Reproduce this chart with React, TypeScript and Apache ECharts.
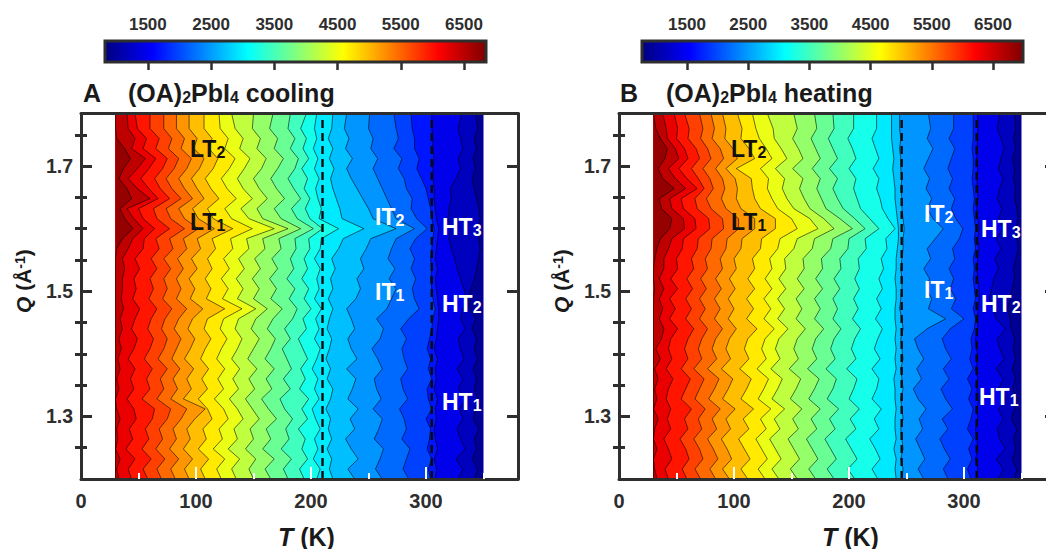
import React, { useEffect, useRef } from "react";
import * as echarts from "echarts";

const qSamples = [1.2,1.216,1.232,1.248,1.264,1.28,1.296,1.312,1.328,1.344,1.36,1.376,1.392,1.408,1.424,1.44,1.456,1.472,1.488,1.504,1.52,1.536,1.552,1.568,1.584,1.6,1.616,1.632,1.648,1.664,1.68,1.696,1.712,1.728,1.744,1.76,1.784];

// Contour positions (T, K) at each qSample, from the lowest intensity level to the highest.
const coolingContours = [
[342,345,340,344,342,346,341,343,345,342,344,341,345,342,344,340,343,338,336,339,342,344,346,347,346,345,347,346,344,342,340,343,341,344,342,345,343],
[328,332,326,334,330,327,332,329,334,328,332,327,333,330,328,334,330,332,335,333,330,327,325,322,320,321,319,320,322,321,326,330,328,332,330,328,331],
[308,309,307,310,308,307,309,308,310,307,309,308,310,307,309,310,311,311,310,309,308,310,308,309,310,311,309,308,307,307,306,306,307,306,306,305,305],
[304,302,305,301,303,304,300,305,302,301,305,302,304,301,303,305,306,308,306,305,304,305,304,305,306,307,305,304,302,300,296,292,294,290,290,288,287],
[285,280,283,286,279,283,281,277,284,280,278,284,281,279,283,278,285,294,290,288,291,287,290,286,291,301,292,287,288,283,281,276,279,272,276,274,272],
[262,256,260,263,255,259,262,254,261,257,255,262,258,253,260,263,257,266,270,274,268,273,267,270,274,290,274,270,266,262,258,254,258,252,254,250,251],
[238,232,241,235,230,238,234,241,232,236,239,231,240,235,232,238,235,231,239,243,240,246,243,248,252,274,254,250,245,240,235,231,236,230,233,229,231],
[219,216,218,214,218,215,217,213,217,219,214,217,213,216,218,214,216,219,215,219,217,221,218,224,228,246,227,225,222,219,217,220,216,219,215,218,219],
[205,208,202,206,203,208,204,201,207,203,206,201,205,208,203,207,204,209,203,207,205,208,203,208,209,224,207,209,206,204,207,203,206,202,205,203,205],
[194,190,197,192,195,189,197,192,198,190,195,191,197,193,189,196,193,200,194,198,192,197,194,199,198,210,199,195,199,194,197,192,198,193,196,191,196],
[180,176,183,174,181,178,184,177,173,182,176,183,179,175,182,177,184,188,181,186,179,185,182,187,186,202,188,183,191,185,180,186,189,182,186,180,182],
[165,160,168,158,165,161,170,163,157,166,161,168,160,165,169,162,167,175,165,170,164,171,166,174,172,191,174,168,177,170,165,171,176,168,171,164,167],
[150,146,152,143,150,147,155,149,143,151,146,153,145,150,155,148,152,162,150,155,149,156,151,160,158,180,158,153,162,155,150,157,161,153,156,149,150],
[135,131,138,128,136,133,141,136,129,137,132,138,131,136,140,134,137,152,136,141,135,142,137,146,144,168,146,139,149,141,136,142,147,138,141,134,131],
[122,118,125,115,123,120,128,124,116,124,119,125,118,122,127,121,124,140,123,128,122,129,124,132,130,149,131,125,135,127,122,129,134,125,128,121,120],
[108,104,111,102,109,106,114,110,102,110,105,111,104,108,113,107,110,125,109,113,108,114,110,117,114,132,115,110,120,113,108,115,119,111,114,107,107],
[94,90,97,89,95,92,99,108,89,96,92,98,90,95,99,93,97,106,95,99,94,101,96,104,101,116,102,97,107,101,96,103,107,98,101,94,94],
[82,78,85,77,83,80,87,92,78,84,80,86,79,83,87,81,85,92,83,87,83,89,84,92,89,102,90,85,97,90,85,92,96,87,90,83,83],
[70,66,73,65,71,68,75,78,66,72,69,75,67,72,75,70,73,79,71,75,72,78,72,80,77,90,78,74,87,79,74,81,85,76,79,72,72],
[58,54,61,53,59,56,62,64,53,60,57,62,55,60,63,58,61,66,59,63,60,66,61,68,65,77,66,63,77,69,64,71,75,65,68,60,60],
[44,41,47,39,45,42,48,46,40,46,43,47,41,46,49,44,47,51,45,48,46,51,47,54,55,64,54,50,67,59,52,59,65,54,57,49,47],
[33,31,34,30,32,31,34,31,30,33,31,34,32,35,33,36,34,37,35,36,36,38,36,41,45,54,46,40,60,49,41,49,56,44,47,41,40],
[30,30,30,30,30,30,30,30,30,30,30,30,30,30,30,30,30,30,30,30,30,30,30,31,36,45,38,34,44,40,33,37,43,38,31,30,30],
];

const heatingContours = [
[344,346,342,345,343,346,341,344,346,342,345,342,345,343,344,341,340,338,340,342,344,343,345,347,346,345,347,346,344,345,343,344,342,345,343,345,344],
[330,334,328,336,331,329,334,330,336,330,334,328,335,331,329,336,328,325,322,324,326,330,327,332,328,334,330,333,329,331,334,330,332,335,332,329,331],
[311,312,310,312,311,310,312,311,313,311,312,310,312,311,310,312,312,312,313,313,312,311,312,313,312,313,312,311,312,312,311,312,311,311,312,312,312],
[306,303,307,304,308,303,306,308,304,307,303,308,305,307,306,309,310,308,310,309,308,309,308,310,309,310,309,308,309,308,307,308,308,307,308,308,308],
[286,282,288,283,279,286,281,290,284,280,287,282,289,284,281,288,300,289,293,288,291,287,292,290,296,299,293,289,292,287,290,286,289,292,287,291,291],
[265,260,266,262,258,264,261,267,260,256,263,259,265,260,257,268,284,269,272,267,270,265,271,268,275,282,273,268,272,267,270,265,269,273,268,271,269],
[246,247,245,247,246,245,247,246,245,247,246,245,247,246,245,247,246,244,245,246,246,245,246,247,247,248,247,246,246,245,246,245,245,244,245,244,244],
[241,240,241,239,241,240,240,241,240,240,239,241,240,241,240,241,240,240,241,241,240,241,241,242,243,243,242,241,240,240,239,238,239,238,237,237,237],
[225,220,227,223,218,226,222,228,220,224,226,220,227,222,225,229,223,228,224,229,226,230,228,233,232,240,234,229,227,224,226,221,226,223,220,224,224],
[205,199,207,202,197,206,201,209,200,204,207,198,206,202,205,210,203,208,204,209,205,209,208,215,214,226,218,210,207,204,206,200,206,203,199,204,204],
[187,181,189,184,179,188,183,191,181,186,189,180,188,184,187,193,186,190,186,192,187,193,192,199,200,214,205,195,190,186,190,183,190,186,182,187,186],
[171,165,173,168,163,172,167,175,165,170,174,164,172,168,171,178,170,175,170,177,171,177,176,184,186,203,192,180,176,172,175,168,175,171,167,172,170],
[155,149,157,152,147,156,151,159,149,154,158,148,156,152,155,162,154,159,154,161,155,161,160,168,170,187,178,166,161,157,160,151,160,156,151,155,152],
[139,133,141,136,131,140,135,144,133,138,142,132,140,136,139,147,138,144,138,145,139,145,144,152,155,173,166,152,146,142,144,136,146,141,135,134,129],
[127,121,129,124,119,128,123,132,121,126,130,120,128,124,127,135,126,132,126,133,127,133,131,138,140,155,150,138,133,129,130,123,133,128,122,119,116],
[112,106,114,109,104,113,108,117,106,111,115,105,113,109,112,120,111,117,111,118,112,118,116,123,124,136,136,123,118,116,115,102,118,113,106,107,103],
[96,90,98,94,89,97,93,101,90,95,99,89,97,93,96,102,95,100,95,101,96,102,100,106,107,118,118,106,102,103,101,93,103,99,92,93,90],
[84,79,86,82,77,85,81,88,78,83,87,77,85,81,84,90,83,88,83,89,84,90,88,93,94,104,104,93,89,92,90,84,91,88,81,83,80],
[71,66,73,70,65,72,69,75,66,70,74,65,72,69,72,77,70,75,70,76,71,77,75,80,81,91,90,80,76,82,79,73,80,77,71,73,70],
[59,55,61,58,53,60,57,63,54,58,62,54,60,57,60,65,58,63,58,64,59,65,63,68,69,79,78,68,66,74,69,63,70,67,60,61,57],
[43,40,46,43,39,45,42,45,41,43,47,41,46,43,45,51,44,49,44,51,45,51,50,55,56,67,66,56,54,68,59,52,60,57,50,51,48],
[33,31,30,33,30,31,34,30,33,31,34,31,36,32,37,39,35,38,35,39,35,39,39,43,46,57,56,46,44,58,49,43,52,49,42,41,38],
[30,30,30,30,30,30,30,30,30,30,30,30,30,30,30,30,30,30,30,31,30,30,31,33,36,44,46,37,35,48,38,34,40,42,36,32,30],
];

const tRange = [30, 350];
const transitionsA = [210, 305];
const transitionsB = [245.8, 311];
const xLabels = [0, 100, 200, 300];
const xMajor = [100, 200, 300];
const xMinor = [50, 150, 250, 350];
const yMajor = [1.3, 1.5, 1.7];
const yMinor = [1.25, 1.35, 1.4, 1.45, 1.55, 1.6, 1.65, 1.75];
const cbTicks = [1500, 2500, 3500, 4500, 5500, 6500];
const cbRangeA = [822, 6848];
const cbRangeB = [765, 6990];

const INK = "#2e2e2e";
const FONT = "'Liberation Sans', Arial, sans-serif";
const BANDS = 24;

function jet(v: number) {
  const c = (x: number) => Math.round(255 * Math.max(0, Math.min(1, x)));
  const r = c(Math.min(4 * v - 1.5, -4 * v + 4.5));
  const g = c(Math.min(4 * v - 0.5, -4 * v + 3.5));
  const b = c(Math.min(4 * v + 0.5, -4 * v + 2.5));
  return `rgb(${r},${g},${b})`;
}
const bandColor = (i: number) => jet((i + 0.5) / BANDS);

function contourSeries(contours: number[][], axisOffsetX: number, axisOffsetY: number) {
  return {
    type: "custom",
    coordinateSystem: "cartesian2d",
    xAxisIndex: axisOffsetX,
    yAxisIndex: axisOffsetY,
    silent: true,
    z: 2,
    data: [[-1], ...contours.map((_, k) => [k])],
    renderItem: (_p: any, api: any) => {
      const k = api.value(0);
      if (k < 0) {
        const points = [
          api.coord([tRange[0], qSamples[0]]),
          api.coord([tRange[1], qSamples[0]]),
          api.coord([tRange[1], qSamples[qSamples.length - 1]]),
          api.coord([tRange[0], qSamples[qSamples.length - 1]]),
        ];
        return { type: "polygon", z2: 0, shape: { points }, style: { fill: bandColor(0) } };
      }
      const edge = contours[k].map((t, j) => api.coord([t, qSamples[j]]));
      const poly = [
        api.coord([tRange[0], qSamples[0]]),
        ...edge,
        api.coord([tRange[0], qSamples[qSamples.length - 1]]),
      ];
      return {
        type: "group",
        children: [
          { type: "polygon", z2: 2 * k + 1, shape: { points: poly }, style: { fill: bandColor(k + 1), stroke: "none" } },
          { type: "polyline", z2: 2 * k + 2, shape: { points: edge }, style: { fill: "none", stroke: "rgba(0,0,0,0.72)", lineWidth: 0.8 } },
        ],
      };
    },
  };
}

function dashedSeries(values: number[], xi: number, yi: number) {
  return values.map((t) => ({
    type: "line",
    xAxisIndex: xi,
    yAxisIndex: yi,
    silent: true,
    symbol: "none",
    z: 5,
    data: [[t, 1.2], [t, 1.78]],
    lineStyle: { color: "#0a0a0a", width: 2.4, type: [8, 5] },
  }));
}

function colorbarSeries(range: number[], xi: number, yi: number) {
  return {
    type: "custom",
    coordinateSystem: "cartesian2d",
    xAxisIndex: xi,
    yAxisIndex: yi,
    silent: true,
    data: [[range[0], range[1]]],
    renderItem: (_p: any, api: any) => {
      const a = api.coord([api.value(0), 0]);
      const b = api.coord([api.value(1), 1]);
      return {
        type: "rect",
        shape: { x: a[0], y: b[1], width: b[0] - a[0], height: a[1] - b[1] },
        style: {
          stroke: INK,
          lineWidth: 3,
          fill: new echarts.graphic.LinearGradient(0, 0, 1, 0, [
            { offset: 0, color: "#00007f" },
            { offset: 0.125, color: "#0000ff" },
            { offset: 0.375, color: "#00ffff" },
            { offset: 0.625, color: "#ffff00" },
            { offset: 0.875, color: "#ff0000" },
            { offset: 1, color: "#7f0000" },
          ]),
        },
      };
    },
  };
}

const tickBase = { inside: true, customValues: [] as number[] };

function panelAxes(gridIndex: number) {
  const line = { show: true, onZero: false, lineStyle: { color: INK, width: 3 } };
  const off = { show: false };
  const xBase = { type: "value", gridIndex, min: 0, max: 380, splitLine: off, z: 10 };
  const yBase = {
    type: "value", gridIndex, min: 1.2, max: 1.784, splitLine: off, z: 10,
    axisLabel: off,
  };
  const xAxes = [
    {
      ...xBase, position: "bottom", axisLine: line,
      axisTick: { ...tickBase, customValues: xMajor, length: 12, lineStyle: { color: "#fff", width: 2 } },
      axisLabel: { customValues: xLabels, margin: 12, fontSize: 20, fontWeight: "bold", fontFamily: FONT, color: INK },
    },
    {
      ...xBase, position: "bottom", axisLine: off,
      axisTick: { ...tickBase, customValues: xMinor, length: 6, lineStyle: { color: "#fff", width: 2 } },
      axisLabel: off,
    },
    { ...xBase, position: "top", axisLine: line, axisTick: off, axisLabel: off },
  ];
  const side = (position: string, values: number[], length: number, withLine: boolean, labelled: boolean) => ({
    ...yBase,
    position,
    axisLine: withLine ? line : off,
    axisTick: { ...tickBase, customValues: values, length, lineStyle: { color: INK, width: 3 } },
    axisLabel: labelled
      ? { customValues: values, margin: 8, fontSize: 19.5, fontWeight: "bold", fontFamily: FONT, color: INK, formatter: (v: number) => v.toFixed(1) }
      : off,
  });
  const yAxes = [
    side("left", yMajor, 11, true, true),
    side("left", yMinor, 6, false, false),
    side("right", yMajor, 11, true, false),
    side("right", yMinor, 6, false, false),
  ];
  return { xAxes, yAxes };
}

function colorbarAxes(gridIndex: number, range: number[]) {
  return {
    x: {
      type: "value", gridIndex, min: range[0], max: range[1], position: "top", z: 10,
      splitLine: { show: false }, axisLine: { show: false },
      axisTick: { inside: true, customValues: cbTicks, length: 8, lineStyle: { color: INK, width: 2.5 } },
      axisLabel: { customValues: cbTicks, margin: 8, fontSize: 17, fontWeight: "bold", fontFamily: FONT, color: INK, formatter: (v: number) => String(v) },
    },
    y: {
      type: "value", gridIndex, min: 0, max: 1, show: false,
    },
  };
}

const base = { fontFamily: FONT, fontWeight: "bold" as const };

function titleText(letter: string, lx: number, word: string, tx: number) {
  return [
    { type: "text", x: lx, y: 80.5, z: 50, style: { ...base, text: letter, fontSize: 25, fill: "#1a1a1a" } },
    {
      type: "text", x: tx, y: 80.5, z: 50,
      style: {
        text: `{b|(OA)}{s|2}{b|PbI}{s|4}{b| ${word}}`,
        rich: {
          b: { ...base, fontSize: 25, lineHeight: 25, verticalAlign: "top", fill: "#1a1a1a" },
          s: { ...base, fontSize: 16, lineHeight: 16, verticalAlign: "bottom", padding: [13, 0, 0, 0], fill: "#1a1a1a" },
        },
      },
    },
  ];
}

function region(main: string, sub: string, x: number, baseline: number, fill: string) {
  return {
    type: "text", x, y: baseline - 20, z: 50,
    style: {
      text: `{b|${main}}{s|${sub}}`,
      rich: {
        b: { ...base, fontSize: 23, lineHeight: 23, verticalAlign: "top", fill },
        s: { ...base, fontSize: 16, lineHeight: 16, verticalAlign: "bottom", padding: [13, 0, 0, 0], fill },
      },
    },
  };
}

function xName(x: number) {
  return {
    type: "text", x, y: 524, z: 50,
    style: {
      text: "{i|T}{b| (K)}",
      rich: {
        i: { ...base, fontSize: 25, fontStyle: "italic", fill: "#1a1a1a" },
        b: { ...base, fontSize: 25, fill: "#1a1a1a" },
      },
    },
  };
}

function yName(x: number) {
  return {
    type: "text", x, y: 313, z: 50, rotation: Math.PI / 2,
    style: {
      text: "{i|Q}{b| (Å}{u|-1}{b|)}",
      rich: {
        i: { ...base, fontSize: 21, lineHeight: 21, verticalAlign: "bottom", fontStyle: "italic", fill: "#1a1a1a" },
        b: { ...base, fontSize: 21, lineHeight: 21, verticalAlign: "bottom", fill: "#1a1a1a" },
        u: { ...base, fontSize: 14, lineHeight: 14, verticalAlign: "top", padding: [0, 0, 9, 0], fill: "#1a1a1a" },
      },
    },
  };
}

export default function App() {
  const ref = useRef<HTMLDivElement>(null);
  useEffect(() => {
    document.body.style.margin = "0";
    const chart = echarts.init(ref.current!, undefined, { renderer: "svg" });
    const a = panelAxes(0);
    const b = panelAxes(1);
    const cbA = colorbarAxes(2, cbRangeA);
    const cbB = colorbarAxes(3, cbRangeB);
    const gridCommon = { outerBoundsMode: "none", containLabel: false };
    chart.setOption({
      animation: false,
      backgroundColor: "#fff",
      grid: [
        { ...gridCommon, left: 81, top: 113.5, width: 437, height: 365.5 },
        { ...gridCommon, left: 619, top: 113.5, width: 437, height: 365.5 },
        { ...gridCommon, left: 105, top: 41, width: 381, height: 21 },
        { ...gridCommon, left: 642, top: 41, width: 381, height: 21 },
      ],
      xAxis: [...a.xAxes, ...b.xAxes, cbA.x, cbB.x],
      yAxis: [...a.yAxes, ...b.yAxes, cbA.y, cbB.y],
      series: [
        contourSeries(coolingContours, 0, 0),
        contourSeries(heatingContours, 3, 4),
        ...dashedSeries(transitionsA, 0, 0),
        ...dashedSeries(transitionsB, 3, 4),
        colorbarSeries(cbRangeA, 6, 8),
        colorbarSeries(cbRangeB, 7, 9),
      ],
      graphic: [
        ...titleText("A", 83, "cooling", 128),
        ...titleText("B", 620, "heating", 666),
        xName(278), xName(822), yName(13), yName(551),
        region("LT", "2", 190, 157, "#111"),
        region("LT", "1", 190, 230, "#111"),
        region("IT", "2", 375, 225, "#fff"),
        region("IT", "1", 375, 300, "#fff"),
        region("HT", "3", 442, 235, "#fff"),
        region("HT", "2", 442, 312, "#fff"),
        region("HT", "1", 442, 410, "#fff"),
        region("LT", "2", 731, 157, "#111"),
        region("LT", "1", 731, 230, "#111"),
        region("IT", "2", 924, 222, "#fff"),
        region("IT", "1", 924, 298, "#fff"),
        region("HT", "3", 981, 237, "#fff"),
        region("HT", "2", 981, 312, "#fff"),
        region("HT", "1", 979, 405, "#fff"),
      ],
    });
    return () => chart.dispose();
  }, []);
  return <div ref={ref} style={{ width: 1046, height: 549 }} />;
}
